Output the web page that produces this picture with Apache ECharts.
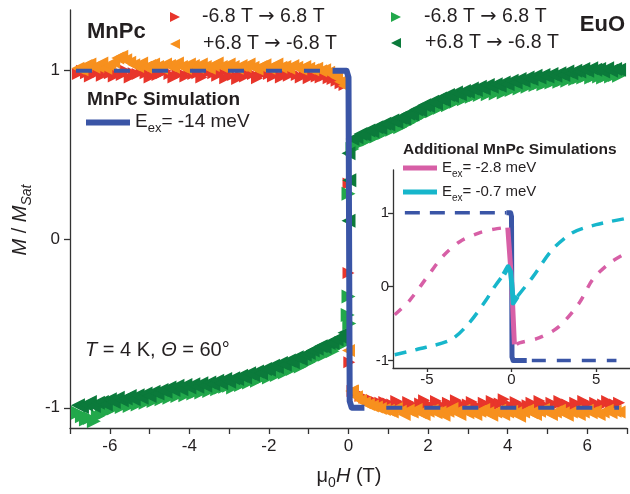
<!DOCTYPE html>
<html><head><meta charset="utf-8">
<script src="https://cdn.jsdelivr.net/npm/echarts@6/dist/echarts.min.js"></script>
<style>html,body{margin:0;padding:0;background:#fff}#c{width:630px;height:494px}</style>
</head><body><div id="c"></div>
<script>
// ---------- data ----------
// field values (T), shared by all measured sweeps
const H = [
  -6.8,-6.7,-6.6,-6.5,-6.4,-6.3,-6.2,-6.1,-6.0,-5.9,
  -5.8,-5.7,-5.6,-5.5,-5.4,-5.3,-5.2,-5.1,-5.0,-4.9,
  -4.8,-4.7,-4.6,-4.5,-4.4,-4.3,-4.2,-4.1,-4.0,-3.9,
  -3.8,-3.7,-3.6,-3.5,-3.4,-3.3,-3.2,-3.1,-3.0,-2.9,
  -2.8,-2.7,-2.6,-2.5,-2.4,-2.3,-2.2,-2.1,-2.0,-1.9,
  -1.8,-1.7,-1.6,-1.5,-1.4,-1.3,-1.2,-1.1,-1.0,-0.9,
  -0.8,-0.7,-0.6,-0.5,-0.4,-0.3,-0.2,-0.1,
  0,
  0.1,0.2,0.3,0.4,0.5,0.6,0.7,0.8,0.9,1.0,
  1.1,1.2,1.3,1.4,1.5,1.6,1.7,1.8,1.9,2.0,
  2.1,2.2,2.3,2.4,2.5,2.6,2.7,2.8,2.9,3.0,
  3.1,3.2,3.3,3.4,3.5,3.6,3.7,3.8,3.9,4.0,
  4.1,4.2,4.3,4.4,4.5,4.6,4.7,4.8,4.9,5.0,
  5.1,5.2,5.3,5.4,5.5,5.6,5.7,5.8,5.9,6.0,
  6.1,6.2,6.3,6.4,6.5,6.6,6.7,6.8];
// MnPc, sweep -6.8 T -> 6.8 T (red)
const mnpcUpM = [
  0.98,1.0,0.985,0.965,0.995,0.99,0.97,1.005,0.985,0.965,
  0.99,0.975,1.0,0.96,0.985,0.98,1.0,0.985,0.96,0.99,
  0.975,0.985,1.0,0.98,0.96,0.99,0.985,0.965,1.0,0.98,
  0.985,0.96,0.98,1.0,0.985,0.97,0.99,0.955,0.98,0.975,
  0.95,0.975,0.965,0.985,0.98,0.955,0.975,0.99,0.98,0.965,
  0.985,0.96,0.98,0.97,0.99,0.975,0.96,0.98,0.955,0.975,
  0.965,0.96,0.97,0.955,0.95,0.94,0.925,0.915,
  0.33,
  -0.9,-0.91,-0.93,-0.94,-0.95,-0.955,-0.965,-0.97,-0.965,-0.975,
  -0.98,-0.96,-0.975,-0.99,-0.965,-0.98,-0.995,-0.975,-0.955,-0.985,
  -0.99,-0.96,-0.98,-0.995,-0.97,-0.985,-0.955,-0.975,-0.99,-0.98,
  -0.965,-0.985,-1.0,-0.97,-0.985,-0.96,-0.99,-0.975,-0.95,-0.985,
  -0.99,-0.965,-0.98,-1.0,-0.985,-0.97,-0.99,-0.96,-0.98,-0.995,
  -0.97,-0.985,-0.96,-0.99,-0.98,-0.995,-0.97,-0.985,-0.96,-0.99,
  -0.985,-0.97,-0.995,-0.98,-0.96,-0.99,-0.98,-0.97];
const mnpcUpExtraH = [0.0, 0.02];
const mnpcUpExtraM = [-0.2, -0.73];
// MnPc, sweep +6.8 T -> -6.8 T (orange)
const mnpcDownM = [
  1.015,1.005,1.03,1.04,1.02,1.025,1.045,1.015,1.03,1.05,
  1.075,1.085,1.065,1.05,1.035,1.025,1.045,1.02,1.03,1.04,
  1.025,1.015,1.04,1.03,1.02,1.045,1.025,1.015,1.04,1.03,
  1.02,1.04,1.025,1.015,1.03,1.045,1.025,1.02,1.04,1.025,
  1.015,1.03,1.025,1.04,1.02,1.01,1.025,1.035,1.015,1.025,
  1.04,1.02,1.025,1.015,1.03,1.02,1.01,1.025,1.015,1.005,
  1.015,1.0,1.005,0.99,0.975,0.96,0.935,0.91,
  -0.66,
  -0.9,-0.935,-0.955,-0.97,-0.98,-0.99,-0.995,-1.005,-1.01,-1.015,
  -1.025,-1.005,-1.02,-1.04,-1.015,-1.025,-1.01,-1.03,-1.04,-1.02,
  -1.015,-1.03,-1.025,-1.045,-1.02,-1.005,-1.025,-1.04,-1.015,-1.03,
  -1.025,-1.04,-1.02,-1.01,-1.03,-1.045,-1.025,-1.015,-1.04,-1.025,
  -1.02,-1.03,-1.05,-1.025,-1.015,-1.03,-1.04,-1.02,-1.01,-1.025,
  -1.04,-1.025,-1.015,-1.03,-1.045,-1.025,-1.02,-1.04,-1.025,-1.015,
  -1.03,-1.02,-1.04,-1.025,-1.015,-1.03,-1.02,-1.025];
const mnpcDownExtraH = [0.08];
const mnpcDownExtraM = [-0.9];
// EuO, sweep -6.8 T -> 6.8 T (light green)
const euoUpM = [
  -1.03,-1.05,-1.07,-1.06,-1.08,-1.05,-1.015,-1.025,-1.0,-1.005,
  -0.99,-0.995,-0.98,-0.99,-0.975,-0.98,-0.965,-0.97,-0.955,-0.96,
  -0.945,-0.95,-0.935,-0.94,-0.925,-0.93,-0.915,-0.925,-0.91,-0.915,
  -0.905,-0.91,-0.895,-0.9,-0.885,-0.89,-0.88,-0.875,-0.87,-0.88,
  -0.86,-0.865,-0.85,-0.85,-0.835,-0.84,-0.825,-0.815,-0.82,-0.8,
  -0.805,-0.785,-0.79,-0.765,-0.77,-0.745,-0.755,-0.725,-0.73,-0.705,
  -0.705,-0.68,-0.685,-0.66,-0.665,-0.64,-0.63,-0.615,
  -0.34,
  0.535,0.56,0.57,0.585,0.59,0.605,0.61,0.625,0.63,0.645,
  0.65,0.665,0.665,0.685,0.69,0.705,0.715,0.73,0.74,0.755,
  0.76,0.775,0.78,0.795,0.795,0.815,0.815,0.83,0.83,0.845,
  0.845,0.855,0.855,0.87,0.86,0.875,0.865,0.88,0.87,0.885,
  0.885,0.9,0.895,0.91,0.905,0.92,0.915,0.925,0.92,0.93,
  0.93,0.94,0.935,0.945,0.94,0.955,0.95,0.96,0.96,0.97,
  0.96,0.97,0.965,0.96,0.97,0.965,0.975,0.97];
const euoUpExtraH = [0.0, -0.02, 0.02];
const euoUpExtraM = [0.27, -0.45, -0.5];
// EuO, sweep +6.8 T -> -6.8 T (dark green)
const euoDownM = [
  -0.985,-0.995,-0.98,-0.965,-0.99,-0.97,-0.965,-0.98,-0.95,-0.965,
  -0.94,-0.955,-0.945,-0.93,-0.95,-0.925,-0.94,-0.915,-0.93,-0.905,
  -0.915,-0.895,-0.905,-0.88,-0.895,-0.87,-0.89,-0.865,-0.88,-0.86,
  -0.875,-0.855,-0.87,-0.85,-0.86,-0.84,-0.855,-0.83,-0.845,-0.825,
  -0.83,-0.81,-0.82,-0.795,-0.805,-0.785,-0.795,-0.77,-0.775,-0.75,
  -0.76,-0.735,-0.745,-0.72,-0.73,-0.7,-0.71,-0.685,-0.675,-0.66,
  -0.65,-0.635,-0.64,-0.615,-0.615,-0.595,-0.58,-0.555,
  0.11,
  0.595,0.605,0.625,0.62,0.645,0.64,0.665,0.66,0.685,0.68,
  0.705,0.695,0.72,0.715,0.745,0.74,0.77,0.765,0.795,0.79,
  0.815,0.805,0.835,0.825,0.855,0.85,0.87,0.86,0.88,0.875,
  0.895,0.885,0.905,0.895,0.915,0.905,0.92,0.91,0.93,0.92,
  0.94,0.93,0.95,0.94,0.96,0.95,0.97,0.96,0.975,0.965,
  0.98,0.97,0.985,0.975,0.995,0.985,1.0,0.995,1.01,1.0,
  1.015,1.005,1.01,0.995,1.015,1.0,1.01,1.005];
const euoDownExtraH = [0.0, 0.02];
const euoDownExtraM = [0.51, 0.35];
// MnPc simulation, E_ex = -14 meV (main panel)
const simDashTopH = [-6.85, -0.7], simDashTopM = [1, 1];
const simDashBotH = [0.95, 6.8], simDashBotM = [-1, -1];
const simSolidH = [-0.4, -0.05, 0.0, 0.03, 0.08, 0.4];
const simSolidM = [1, 1, 0.96, -0.96, -1, -1];
// inset: E_ex = -14 meV
const inBlueTopH = [-6.3, -0.3], inBlueTopM = [1, 1];
const inBlueBotH = [1.2, 6.2], inBlueBotM = [-1, -1];
const inBlueSolidH = [-0.3, -0.05, 0.0, 0.03, 0.1, 0.9];
const inBlueSolidM = [1, 1, 0.95, -0.95, -1, -1];
// inset: E_ex = -2.8 meV
const pinkLeftH = [-6.9, -6.0, -4.8, -4.06, -3.06, -1.9, -1.0, -0.4];
const pinkLeftM = [-0.38, -0.18, 0.19, 0.41, 0.61, 0.73, 0.78, 0.8];
const pinkSolidH = [-0.22, 0.0, 0.17];
const pinkSolidM = [0.8, 0.1, -0.78];
const pinkRightH = [0.3, 0.47, 1.65, 2.8, 4.0, 4.8, 5.8, 6.9];
const pinkRightM = [-0.78, -0.76, -0.69, -0.54, -0.22, 0.1, 0.32, 0.47];
// inset: E_ex = -0.7 meV
const cyanLeftH = [-6.9, -5.6, -3.6, -2.5, -1.5, -1.0, -0.45];
const cyanLeftM = [-0.92, -0.85, -0.72, -0.49, -0.18, 0.0, 0.17];
const cyanSolidH = [-0.45, -0.2, -0.05, 0.05, 0.1, 0.35];
const cyanSolidM = [0.17, 0.27, 0.2, -0.05, -0.22, -0.13];
const cyanRightH = [0.35, 1.25, 2.4, 3.6, 5.0, 6.9];
const cyanRightM = [-0.13, 0.13, 0.5, 0.73, 0.84, 0.93];
// ticks
const mainXTicks = [-6, -4, -2, 0, 2, 4, 6];
const mainYTicks = [-1, 0, 1];
const insetXTicks = [-5, 0, 5];
const insetYTicks = [-1, 0, 1];

// ---------- helpers ----------
const zip = (xs, ys) => xs.map((x, i) => [x, ys[i]]);
const FONT = "'Liberation Sans', Arial, Helvetica, sans-serif";
const ARROWFONT = "'DejaVu Sans', sans-serif";
const TXT = '#231f20';
const RED = '#e8352b', ORANGE = '#f7901e', LGREEN = '#22a84b', DGREEN = '#0b7a3b';
const BLUE = '#3a55a6', PINK = '#d75fa6', CYAN = '#17b6cb';
const triR = 'path://M0,0L10,5L0,10Z';
const triL = 'path://M10,0L0,5L10,10Z';

function scatter(name, data, sym, color, size) {
  return { name, type: 'scatter', xAxisIndex: 0, yAxisIndex: 0, data, symbol: sym, symbolSize: size,
    itemStyle: { color, opacity: 1 }, silent: true };
}
function line(data, color, width, dash, idx, smooth) {
  return { type: 'line', xAxisIndex: idx, yAxisIndex: idx, data, showSymbol: false, symbol: 'none',
    smooth: smooth || false, silent: true,
    lineStyle: { color, width, type: dash || 'solid', cap: 'butt', join: 'round' } };
}

const axisLineStyle = { color: '#333', width: 1.3 };

const option = {
  animation: false,
  grid: [
    { left: 70, top: 10, right: 3, bottom: 66 },
    { left: 393, top: 170, width: 237, height: 198 }
  ],
  xAxis: [
    { gridIndex: 0, type: 'value', min: -7, max: 7, interval: 1,
      axisLine: { onZero: false, lineStyle: axisLineStyle },
      axisTick: { length: 6, lineStyle: axisLineStyle },
      axisLabel: { fontFamily: FONT, fontSize: 17, color: TXT, margin: 10,
        formatter: v => mainXTicks.indexOf(v) >= 0 ? String(v) : '' },
      splitLine: { show: false } },
    { gridIndex: 1, type: 'value', min: -7, max: 7,
      axisLine: { onZero: false, lineStyle: axisLineStyle },
      axisTick: { length: 4, customValues: insetXTicks, lineStyle: axisLineStyle },
      axisLabel: { fontFamily: FONT, fontSize: 15, color: TXT, margin: 4, customValues: insetXTicks },
      splitLine: { show: false } }
  ],
  yAxis: [
    { gridIndex: 0, type: 'value', min: -1.12, max: 1.36,
      axisLine: { show: true, onZero: false, lineStyle: axisLineStyle },
      axisTick: { show: true, length: 6, customValues: mainYTicks, lineStyle: axisLineStyle },
      axisLabel: { fontFamily: FONT, fontSize: 17, color: TXT, margin: 10, customValues: mainYTicks },
      splitLine: { show: false } },
    { gridIndex: 1, type: 'value', min: -1.1, max: 1.58,
      axisLine: { show: true, onZero: false, lineStyle: axisLineStyle },
      axisTick: { show: true, length: 5, customValues: insetYTicks, lineStyle: axisLineStyle },
      axisLabel: { fontFamily: FONT, fontSize: 15, color: TXT, margin: 4, customValues: insetYTicks },
      splitLine: { show: false } }
  ],
  series: [
    scatter('MnPc up', zip(H, mnpcUpM).concat(zip(mnpcUpExtraH, mnpcUpExtraM)), triR, RED, 12),
    scatter('MnPc down', zip(H, mnpcDownM).concat(zip(mnpcDownExtraH, mnpcDownExtraM)), triL, ORANGE, 13),
    scatter('EuO up', zip(H, euoUpM).concat(zip(euoUpExtraH, euoUpExtraM)), triR, LGREEN, 14),
    scatter('EuO down', zip(H, euoDownM).concat(zip(euoDownExtraH, euoDownExtraM)), triL, DGREEN, 14),
    line(zip(simDashTopH, simDashTopM), BLUE, 4, [16, 22], 0),
    line(zip(simDashBotH, simDashBotM), BLUE, 4, [16, 22], 0),
    line(zip(simSolidH, simSolidM), BLUE, 6, 'solid', 0),
    line(zip(inBlueTopH, inBlueTopM), BLUE, 3.5, [15, 10], 1),
    line(zip(inBlueBotH, inBlueBotM), BLUE, 3.5, [14, 11], 1),
    line(zip(inBlueSolidH, inBlueSolidM), BLUE, 5, 'solid', 1),
    line(zip(pinkLeftH, pinkLeftM), PINK, 3.5, [9, 10], 1, 0.3),
    line(zip(pinkRightH, pinkRightM), PINK, 3.5, [9, 10], 1, 0.3),
    line(zip(pinkSolidH, pinkSolidM), PINK, 5, 'solid', 1),
    line(zip(cyanLeftH, cyanLeftM), CYAN, 3.5, [12, 9], 1, 0.3),
    line(zip(cyanRightH, cyanRightM), CYAN, 3.5, [12, 9], 1, 0.3),
    line(zip(cyanSolidH, cyanSolidM), CYAN, 5, 'solid', 1)
  ],
  graphic: []
};

const subRich = (size, big, italic) => ({
  n: { fontFamily: FONT, fontSize: size, fill: TXT, color: TXT, lineHeight: big },
  i: { fontFamily: FONT, fontSize: size, fontStyle: 'italic', fill: TXT, color: TXT, lineHeight: big },
  a: { fontFamily: ARROWFONT, fontSize: size, fill: TXT, color: TXT, lineHeight: big },
  s: { fontFamily: FONT, fontSize: Math.round(size * 0.68), fontStyle: italic ? 'italic' : 'normal', fill: TXT, color: TXT, lineHeight: Math.round(size * 0.68), verticalAlign: 'bottom' }
});
function txt(x, y, text, size, opts) {
  opts = opts || {};
  return { type: 'text', x, y, rotation: opts.rot || 0, silent: true, z: 100,
    style: { text, fontFamily: FONT, fontSize: size, fontWeight: opts.bold ? 'bold' : 'normal',
      fill: TXT, align: opts.align || 'left', verticalAlign: 'middle', rich: opts.rich } };
}
function tri(x, y, dir, color) {
  const pts = dir > 0 ? [[x - 5, y - 5], [x + 5, y], [x - 5, y + 5]] : [[x + 5, y - 5], [x - 5, y], [x + 5, y + 5]];
  return { type: 'polygon', shape: { points: pts }, style: { fill: color }, silent: true, z: 100 };
}
const g = option.graphic;
const legR = (x, y, t1, t2) => txt(x, y, '{n|' + t1 + ' }{a|\u2192}{n| ' + t2 + '}', 19.5, { rich: subRich(19.5, 24, false) });
g.push(txt(87, 32, 'MnPc', 22, { bold: true }));
g.push(txt(625, 25, 'EuO', 22, { bold: true, align: 'right' }));
g.push(tri(175, 17, 1, RED));
g.push(legR(202, 17, '-6.8 T', '6.8 T'));
g.push(tri(175, 44, -1, ORANGE));
g.push(legR(203, 44, '+6.8 T', '-6.8 T'));
g.push(tri(396, 17, 1, LGREEN));
g.push(legR(424, 17, '-6.8 T', '6.8 T'));
g.push(tri(396, 43, -1, DGREEN));
g.push(legR(425, 43, '+6.8 T', '-6.8 T'));
g.push(txt(87, 100, 'MnPc Simulation', 19, { bold: true }));
g.push({ type: 'rect', shape: { x: 86, y: 119.5, width: 44, height: 6 }, style: { fill: BLUE }, silent: true, z: 100 });
g.push(txt(135, 122, '{n|E}{s|ex}{n|= -14 meV}', 19, { rich: subRich(19, 26, false) }));
g.push(txt(85, 350, '{i|T}{n| = 4 K, }{i|\u0398}{n| = 60\u00b0}', 20, { rich: subRich(20, 24, false) }));
g.push(txt(20, 220, '{i|M}{n| / }{i|M}{s|Sat}', 20, { rot: Math.PI / 2, align: 'center', rich: subRich(20, 28, true) }));
g.push(txt(349, 476, '{n|\u03bc}{s|0}{i|H}{n| (T)}', 20, { align: 'center', rich: subRich(20, 28, false) }));
g.push(txt(403, 150, 'Additional MnPc Simulations', 15.5, { bold: true }));
g.push({ type: 'rect', shape: { x: 403, y: 165.5, width: 34, height: 5 }, style: { fill: PINK }, silent: true, z: 100 });
g.push(txt(442, 168, '{n|E}{s|ex}{n|= -2.8 meV}', 15, { rich: subRich(15, 22, false) }));
g.push({ type: 'rect', shape: { x: 403, y: 189.5, width: 34, height: 5 }, style: { fill: CYAN }, silent: true, z: 100 });
g.push(txt(442, 192, '{n|E}{s|ex}{n|= -0.7 meV}', 15, { rich: subRich(15, 22, false) }));

const chart = echarts.init(document.getElementById('c'), null, { renderer: 'canvas' });
chart.setOption(option);
</script></body></html>
